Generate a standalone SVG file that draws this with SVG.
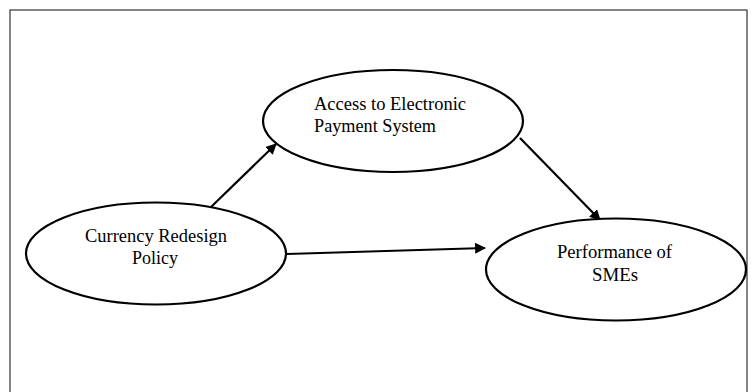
<svg xmlns="http://www.w3.org/2000/svg" width="751" height="392" viewBox="0 0 751 392">
<style>
.node ellipse{fill:#fff;stroke:#000;stroke-width:2.2}
.lbl{font-family:"Liberation Serif","Times New Roman",serif;font-size:18px;fill:#000}
.edge{stroke:#000;stroke-width:2.2;fill:none}
</style>
<defs>
<marker id="ah" viewBox="0 0 10 10" refX="9" refY="5" markerWidth="5" markerHeight="5" orient="auto" markerUnits="strokeWidth">
<path d="M0,0 L10,5 L0,10 z" fill="#000"/>
</marker>
</defs>
<rect x="0" y="0" width="751" height="392" fill="#fff"/>
<rect x="10" y="10" width="737" height="400" fill="none" stroke="#333" stroke-width="1.2"/>
<g id="connectors">
<line class="edge" x1="211" y1="207" x2="276" y2="144" marker-end="url(#ah)"/>
<line class="edge" x1="520" y1="138" x2="600" y2="220" marker-end="url(#ah)"/>
<line class="edge" x1="287" y1="254" x2="485" y2="248" marker-end="url(#ah)"/>
</g>
<g id="node-access" class="node">
<ellipse cx="393" cy="121" rx="130" ry="51"/>
<text class="lbl" x="314" y="110" textLength="152" lengthAdjust="spacingAndGlyphs">Access to Electronic</text>
<text class="lbl" x="314" y="132" textLength="122" lengthAdjust="spacingAndGlyphs">Payment System</text>
</g>
<g id="node-currency" class="node">
<ellipse cx="156" cy="253.5" rx="130" ry="51"/>
<text class="lbl" x="85" y="242" textLength="142" lengthAdjust="spacingAndGlyphs">Currency Redesign</text>
<text class="lbl" x="132" y="264" textLength="46" lengthAdjust="spacingAndGlyphs">Policy</text>
</g>
<g id="node-performance" class="node">
<ellipse cx="616" cy="269.5" rx="130" ry="51"/>
<text class="lbl" x="557" y="258" textLength="115" lengthAdjust="spacingAndGlyphs">Performance of</text>
<text class="lbl" x="592" y="281" textLength="46" lengthAdjust="spacingAndGlyphs">SMEs</text>
</g>
</svg>
